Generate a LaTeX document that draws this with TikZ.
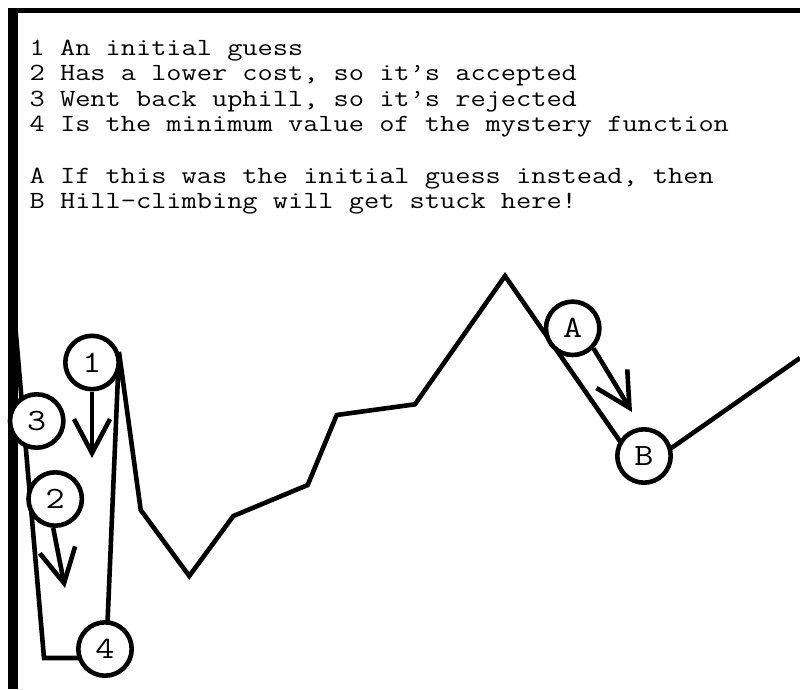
\documentclass[tikz,border=0pt]{standalone}
\usepackage{fontspec}
\newfontfamily\mono[FakeStretch=1.195]{Latin Modern Mono}
\usetikzlibrary{arrows.meta}
\begin{document}
\begin{tikzpicture}[x=1pt,y=-1pt,
  lbl/.style={font=\mono\fontsize{24.7}{25.6}\selectfont, anchor=base west, inner sep=0pt},
  guess/.style={circle, draw, line width=4.6pt, fill=white, minimum size=53.4pt, inner sep=0pt,
                font=\mono\fontsize{31}{31}\selectfont},
  curve/.style={line width=4.6pt, line join=miter},
  move/.style={line width=4.6pt, -{Straight Barb[length=34pt,width=36pt]}}]
\useasboundingbox (0,0) rectangle (800,689);
% frame
\fill (8,7.5) rectangle (800,12.5);
\fill (8,7.5) rectangle (18,689);

% legend
\node[lbl] (l1) at (29.5,55)    {1 An initial guess};
\node[lbl] (l2) at (29.5,80.6)  {2 Has a lower cost, so it’s accepted};
\node[lbl] (l3) at (29.5,106.2) {3 Went back uphill, so it’s rejected};
\node[lbl] (l4) at (29.5,131.8) {4 Is the minimum value of the mystery function};
\node[lbl] (l5) at (29.5,183)   {A If this was the initial guess instead, then};
\node[lbl] (l6) at (29.5,208.6) {B Hill-climbing will get stuck here!};

% the mystery function
\draw[curve] (13,300) -- (44,658) -- (106,658) -- (119,352) -- (140.7,510)
  -- (189.3,576) -- (233.3,516) -- (307.7,485) -- (336.7,415) -- (415,404.3)
  -- (505,276) -- (640,470) -- (800,358);

% guesses
\node[guess] (n1) at (92,362.5) {1};
\node[guess] (n3) at (36.7,421) {3};
\node[guess] (n2) at (55.2,499) {2};
\node[guess] (n4) at (105,649)  {4};
\node[guess] (nA) at (572.7,328.3) {A};
\node[guess] (nB) at (644,456)  {B};

% moves
\coordinate (t1) at (92,458);
\coordinate (t2) at (65,588);
\coordinate (tA) at (632,412);
\draw[move] (n1.south) -- (t1);
\draw[move] (n2.-94) -- (t2);
\draw[move] (nA.-44) -- (tA);
\end{tikzpicture}
\end{document}
